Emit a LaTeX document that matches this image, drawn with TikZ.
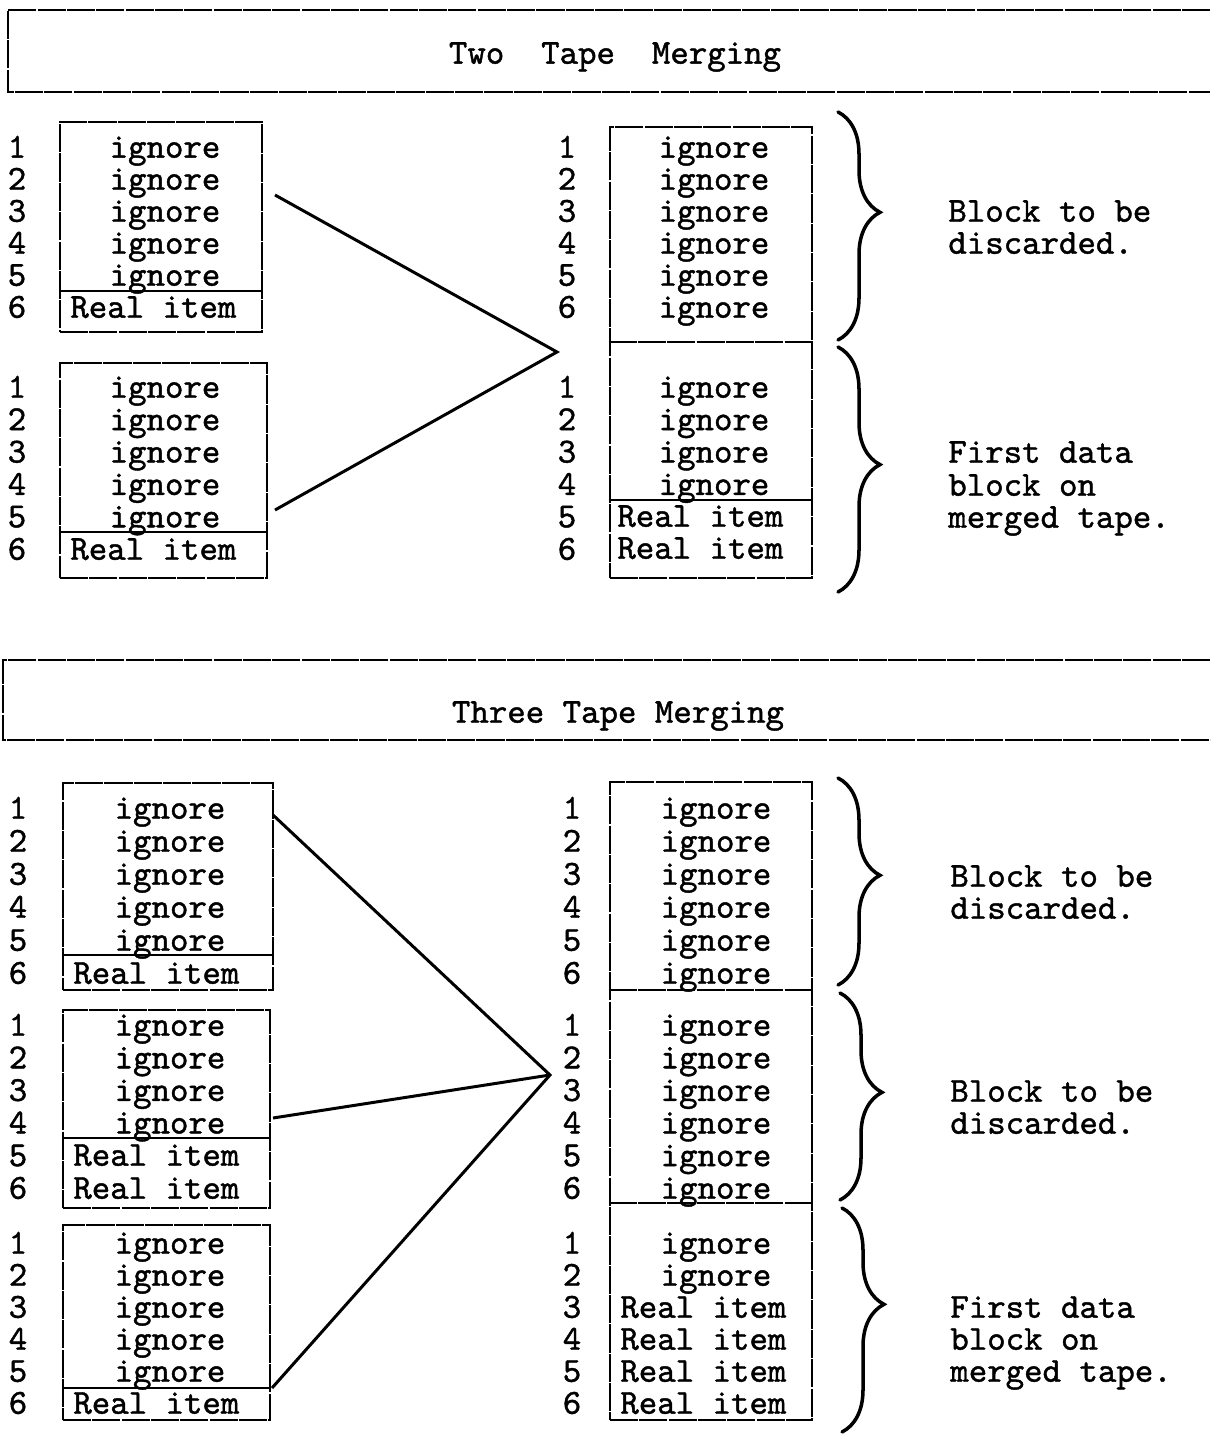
\documentclass[tikz,border=0pt]{standalone}
\usepackage{fontspec}
\usetikzlibrary{fit,decorations.pathreplacing}

\newfontfamily\typewriter{lmmono10-regular.otf}[FakeBold=1.2]
\newcommand{\typed}{\fontsize{20}{24}\selectfont\typewriter}

\begin{document}
\begin{tikzpicture}[x=0.02cm,y=-0.02cm,
    typedline/.style={line width=1.6pt,dash pattern=on 16pt off 0.7pt},
    tapebox/.style={draw,typedline,inner sep=0pt},
    divider/.style={line width=1.5pt},
    merge/.style={line width=1.7pt},
    curly/.style={decorate,line width=2pt,line cap=round,
        decoration={brace,amplitude=0.84cm,aspect=#1}},
    row/.style={font=\typed,inner sep=0pt,text height=12.2pt,text depth=0pt},
    note/.style={row,anchor=west}]
\useasboundingbox (0,0) rectangle (1210,1435);

% two tape merging
\draw[typedline] (1210,10) -- (8,10) -- (8,92) -- (1210,92);
\node[row] (ttlTwo) at (615,53) {Two\ \ Tape\ \ Merging};

\foreach \n in {1,...,6} {
    \node[row] (nA\n) at (17,{147+32*(\n-1)}) {\n};
    \node[row] (nB\n) at (17,{387+32.4*(\n-1)}) {\n};
    \node[row] (nM\n) at (567,{147+32*(\n-1)}) {\n};
    \node[row] (nN\n) at (567,{387+32.4*(\n-1)}) {\n};
    \node[row] (gM\n) at (714,{147+32*(\n-1)}) {ignore};
}
\foreach \n in {1,...,5} {
    \node[row] (gA\n) at (165,{147+32*(\n-1)}) {ignore};
    \node[row] (gB\n) at (165,{387+32.4*(\n-1)}) {ignore};
}
\foreach \n in {1,...,4}
    \node[row] (gN\n) at (714,{387+32.4*(\n-1)}) {ignore};
\node[note] (rA6) at (70,307) {Real item};
\node[note] (rB6) at (70,549) {Real item};
\node[note] (rN5) at (617,516) {Real item};
\node[note] (rN6) at (617,548) {Real item};

\node[tapebox,fit={(60,122) (262,332)}] (tapeA) {};
\node[tapebox,fit={(60,363) (267,578)}] (tapeB) {};
\node[tapebox,fit={(610,127) (812,578)}] (tapeM) {};
\draw[divider] (tapeA.west |- 0,291) -- (tapeA.east |- 0,291);
\draw[divider] (tapeB.west |- 0,532) -- (tapeB.east |- 0,532);
\draw[typedline] (tapeM.west |- 0,342) -- (tapeM.east |- 0,342);
\draw[divider] (tapeM.west |- 0,500) -- (tapeM.east |- 0,500);

\coordinate (apexTwo) at (557,352);
\coordinate (outA) at (275,195);
\coordinate (outB) at (275,510);
\draw[merge] (outA) -- (apexTwo) -- (outB);

\draw[curly=0.44] (838,112) -- (838,340);
\draw[curly=0.48] (838,347) -- (838,592);
\node[note] (lblA1) at (948,211) {Block to be};
\node[note] (lblA2) at (948,243) {discarded.};
\node[note] (lblB1) at (948,452) {First data};
\node[note] (lblB2) at (948,485) {block on};
\node[note] (lblB3) at (948,517) {merged tape.};

% three tape merging
\draw[typedline] (1210,660) -- (3,660) -- (3,740) -- (1210,740);
\node[row] (ttlThree) at (618,712) {Three Tape Merging};

\foreach \n in {1,...,6} {
    \node[row] (nC\n) at (18,{808+33*(\n-1)}) {\n};
    \node[row] (nD\n) at (18,{1025+32.6*(\n-1)}) {\n};
    \node[row] (nE\n) at (18,{1243+32*(\n-1)}) {\n};
    \node[row] (nP\n) at (572,{808+33*(\n-1)}) {\n};
    \node[row] (nQ\n) at (572,{1025+32.6*(\n-1)}) {\n};
    \node[row] (nR\n) at (572,{1243+32*(\n-1)}) {\n};
    \node[row] (gP\n) at (716,{808+33*(\n-1)}) {ignore};
    \node[row] (gQ\n) at (716,{1025+32.6*(\n-1)}) {ignore};
}
\foreach \n in {1,...,5} {
    \node[row] (gC\n) at (170,{808+33*(\n-1)}) {ignore};
    \node[row] (gE\n) at (170,{1243+32*(\n-1)}) {ignore};
}
\foreach \n in {1,...,4}
    \node[row] (gD\n) at (170,{1025+32.6*(\n-1)}) {ignore};
\foreach \n in {1,2}
    \node[row] (gR\n) at (716,{1243+32*(\n-1)}) {ignore};
\foreach \n in {3,...,6}
    \node[note] (rR\n) at (620,{1243+32*(\n-1)}) {Real item};
\node[note] (rC6) at (73,973) {Real item};
\node[note] (rD5) at (73,1155) {Real item};
\node[note] (rD6) at (73,1188) {Real item};
\node[note] (rE6) at (73,1403) {Real item};

\node[tapebox,fit={(63,783) (273,990)}] (tapeC) {};
\node[tapebox,fit={(63,1010) (270,1208)}] (tapeD) {};
\node[tapebox,fit={(63,1225) (270,1420)}] (tapeE) {};
\node[tapebox,fit={(610,782) (812,1420)}] (tapeP) {};
\draw[divider] (tapeC.west |- 0,955) -- (tapeC.east |- 0,955);
\draw[divider] (tapeD.west |- 0,1138) -- (tapeD.east |- 0,1138);
\draw[divider] (tapeE.west |- 0,1388) -- (tapeE.east |- 0,1388);
\draw[typedline] (tapeP.west |- 0,990) -- (tapeP.east |- 0,990);
\draw[typedline] (tapeP.west |- 0,1203) -- (tapeP.east |- 0,1203);

\coordinate (apexThree) at (550,1075);
\coordinate (outC) at (273,815);
\coordinate (outD) at (273,1118);
\coordinate (outE) at (272,1388);
\draw[merge] (outC) -- (apexThree) -- (outE);
\draw[merge] (outD) -- (apexThree);

\draw[curly=0.47] (838,778) -- (838,985);
\draw[curly=0.48] (840,993) -- (840,1200);
\draw[curly=0.43] (842,1208) -- (842,1432);
\node[note] (lblC1) at (950,876) {Block to be};
\node[note] (lblC2) at (950,908) {discarded.};
\node[note] (lblD1) at (950,1091) {Block to be};
\node[note] (lblD2) at (950,1123) {discarded.};
\node[note] (lblE1) at (950,1307) {First data};
\node[note] (lblE2) at (950,1339) {block on};
\node[note] (lblE3) at (950,1371) {merged tape.};
\end{tikzpicture}
\end{document}
